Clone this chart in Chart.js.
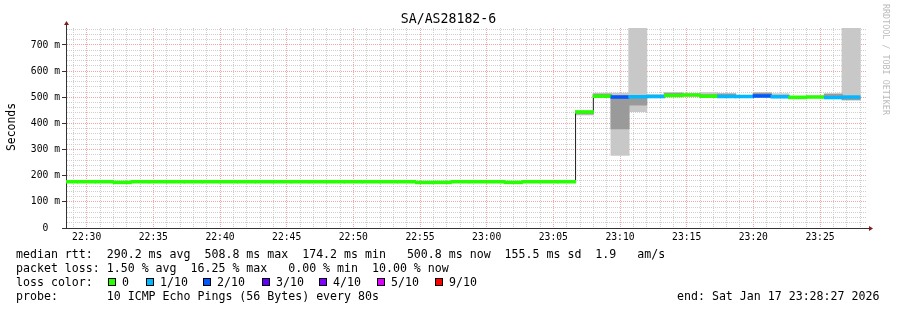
<!DOCTYPE html>
<html>
<head>
<meta charset="utf-8">
<script src="https://cdn.jsdelivr.net/npm/chart.js@4"></script>
<style>
  body { margin: 0; background: #fff; }
  #wrap { position: relative; width: 897px; height: 310px; overflow: hidden; }
  #wrap canvas { display: block; }
  #wrap div { position: absolute; white-space: pre; font-family: 'DejaVu Sans Mono', monospace; color: #000; }
  .leg { font-size: 11.6px; line-height: 14px; }
  .box { width: 6px; height: 6px; border: 1px solid #000; }
</style>
</head>
<body>
<div id="wrap">
  <canvas id="chart" width="897" height="310"></canvas>
  <div style="left:0;width:897px;top:11px;text-align:center;font-size:13.2px;line-height:16px">SA/AS28182-6</div>
  <div style="left:11px;top:127px;font-size:11.4px;line-height:14px;transform:translate(-50%,-50%) rotate(-90deg)">Seconds</div>
  <div style="left:881px;top:4px;font-size:8.4px;color:#bbb;writing-mode:vertical-rl">RRDTOOL / TOBI OETIKER</div>
  <div class="leg" style="left:16px;top:247px">median rtt:  290.2 ms avg  508.8 ms max  174.2 ms min   500.8 ms now  155.5 ms sd  1.9   am/s</div>
  <div class="leg" style="left:16px;top:261px">packet loss: 1.50 % avg  16.25 % max   0.00 % min  10.00 % now</div>
  <div class="leg" style="left:16px;top:275px">loss color:</div>
  <div class="leg" style="left:16px;top:289px">probe:       10 ICMP Echo Pings (56 Bytes) every 80s</div>
  <div class="leg" style="left:677px;top:289px">end: Sat Jan 17 23:28:27 2026</div>
</div>
<script>
// time in minutes after 22:00, one bin every 80 s
const viewStart = 28.45;   // 22:28:27
const viewEnd = 88.45;     // 23:28:27
const firstBin = 28;       // 22:28:00
const binLen = 4 / 3;

// median rtt per bin (ms)
const median = [177, 177, 177, 174.5, 177, 177, 177, 177, 177, 177, 177, 177, 177, 177, 177,
  177, 177, 177, 177, 177, 174.2, 174.5, 177, 177, 177, 174.5, 177, 177, 177,
  444, 504, 501, 502, 503, 507, 508.8, 504, 503, 503, 505, 502, 500, 501, 499, 500.8];
// lost pings out of 10 per bin
const loss = [0, 0, 0, 0, 0, 0, 0, 0, 0, 0, 0, 0, 0, 0, 0, 0, 0, 0, 0, 0, 0, 0, 0, 0, 0, 0, 0, 0, 0,
  0, 0, 2, 1, 1, 0, 0, 0, 1, 1, 2, 1, 0, 0, 1, 1];
// smoke: full ping range and inner ping range per bin (ms)
const smokeMin = [175, 175, 175, 173, 175, 175, 175, 175, 175, 175, 175, 175, 175, 175, 175,
  175, 175, 175, 175, 175, 173, 173, 175, 175, 175, 173, 175, 175, 175,
  432, 500, 278, 445, 498, 502, 504, 500, 500, 500, 500, 498, 493, 499, 497, 490];
const smokeMax = [179, 179, 179, 176, 179, 179, 179, 179, 179, 179, 179, 179, 179, 179, 179,
  179, 179, 179, 179, 179, 176, 176, 179, 179, 179, 176, 179, 179, 179,
  447, 516, 516, 800, 510, 518, 514, 518, 514, 507, 518, 514, 502, 505, 514, 800];
const coreMin = [177, 177, 177, 174.5, 177, 177, 177, 177, 177, 177, 177, 177, 177, 177, 177,
  177, 177, 177, 177, 177, 174.2, 174.5, 177, 177, 177, 174.5, 177, 177, 177,
  436, 502, 379, 470, 500, 504, 506, 502, 502, 501, 502, 500, 495, 500, 499, 490];
const coreMax = [177, 177, 177, 174.5, 177, 177, 177, 177, 177, 177, 177, 177, 177, 177, 177,
  177, 177, 177, 177, 177, 174.2, 174.5, 177, 177, 177, 174.5, 177, 177, 177,
  446, 512, 506, 506, 508, 516, 512, 510, 513, 505, 516, 508, 501, 503, 512, 500];

const lossLevels = [0, 1, 2, 3, 4, 5, 9];
const lossLabels = ['0', '1/10', '2/10', '3/10', '4/10', '5/10', '9/10'];
const lossColors = ['#26ff00', '#00b8ff', '#0059ff', '#5e00ff', '#7e00ff', '#dd00ff', '#ff0000'];

const axisColor = '#333333';
const majorGrid = '#f2a6a6';
const minorGrid = '#cfcfcf';
const monoFont = 'DejaVu Sans Mono';

// loss colour legend
const boxX = [108, 146, 203, 262, 319, 377, 435];
const wrap = document.getElementById('wrap');
lossLabels.forEach((lab, i) => {
  const b = document.createElement('div');
  b.className = 'box';
  b.style.left = boxX[i] + 'px';
  b.style.top = '278px';
  b.style.background = lossColors[i];
  wrap.appendChild(b);
  const t = document.createElement('div');
  t.className = 'leg';
  t.style.left = (boxX[i] + 14) + 'px';
  t.style.top = '275px';
  t.textContent = lab;
  wrap.appendChild(t);
});

function lossColor(n) {
  let c = lossColors[0];
  lossLevels.forEach((lv, i) => { if (n >= lv) c = lossColors[i]; });
  return c;
}
const binStart = i => firstBin + i * binLen;
const binMid = i => binStart(i) + binLen / 2;
const binPx = 800 * binLen / (viewEnd - viewStart) + 0.5;
const halfBand = 5.5;

function hhmm(v) {
  const h = 22 + Math.floor(v / 60);
  const m = v % 60;
  return h + ':' + String(m).padStart(2, '0');
}

// axis extensions and arrows like rrdtool
const arrows = {
  id: 'arrows',
  afterDraw(chart) {
    const {ctx, chartArea: a} = chart;
    ctx.save();
    ctx.strokeStyle = axisColor;
    ctx.lineWidth = 1;
    ctx.beginPath();
    ctx.moveTo(a.left + 0.5, a.top);
    ctx.lineTo(a.left + 0.5, a.top - 4);
    ctx.moveTo(a.left - 4, a.bottom + 0.5);
    ctx.lineTo(a.right + 3, a.bottom + 0.5);
    ctx.stroke();
    ctx.fillStyle = '#7f1f1f';
    ctx.beginPath();
    ctx.moveTo(a.left - 2, a.top - 3);
    ctx.lineTo(a.left + 3, a.top - 3);
    ctx.lineTo(a.left + 0.5, a.top - 7);
    ctx.closePath();
    ctx.fill();
    ctx.beginPath();
    ctx.moveTo(a.right + 3, a.bottom - 2);
    ctx.lineTo(a.right + 3, a.bottom + 3);
    ctx.lineTo(a.right + 7, a.bottom + 0.5);
    ctx.closePath();
    ctx.fill();
    ctx.restore();
  }
};

const lineData = median.map((m, i) => ({x: binStart(i), y: m}));
lineData.push({x: binStart(median.length), y: median[median.length - 1]});

new Chart(document.getElementById('chart'), {
  data: {
    datasets: [
      {
        type: 'bar',
        order: 0,
        data: median.map((m, i) => ({x: binMid(i), y: [m - halfBand, m + halfBand]})),
        backgroundColor: loss.map(lossColor),
        grouped: false,
        barThickness: binPx,
        borderWidth: 0,
        clip: 0
      },
      {
        type: 'line',
        order: 1,
        data: lineData,
        stepped: true,
        borderColor: '#202020',
        borderWidth: 1,
        pointRadius: 0,
        fill: false,
        clip: 0
      },
      {
        type: 'bar',
        order: 2,
        data: coreMin.map((v, i) => ({x: binMid(i), y: [v, coreMax[i]]})),
        backgroundColor: '#9a9a9a',
        grouped: false,
        barThickness: binPx,
        borderWidth: 0,
        clip: 0
      },
      {
        type: 'bar',
        order: 3,
        data: smokeMin.map((v, i) => ({x: binMid(i), y: [v, smokeMax[i]]})),
        backgroundColor: '#c8c8c8',
        grouped: false,
        barThickness: binPx,
        borderWidth: 0,
        clip: 0
      }
    ]
  },
  options: {
    responsive: false,
    animation: false,
    devicePixelRatio: 1,
    layout: { padding: { left: 0, right: 31, top: 28, bottom: 62 } },
    plugins: { legend: { display: false }, tooltip: { enabled: false }, title: { display: false } },
    scales: {
      x: {
        type: 'linear',
        min: viewStart,
        max: viewEnd,
        offset: false,
        z: 1,
        afterBuildTicks: s => {
          s.ticks = [];
          for (let m = 29; m <= 88; m++) s.ticks.push({value: m});
        },
        afterFit: s => { s.height = 20; },
        ticks: {
          autoSkip: false,
          maxRotation: 0,
          padding: 4,
          color: '#000',
          font: { family: monoFont, size: 9.7 },
          callback: v => (v % 5 === 0 ? hhmm(v) : '')
        },
        grid: {
          offset: false,
          drawTicks: false,
          color: c => (c.tick && c.tick.value % 5 === 0 ? majorGrid : minorGrid)
        },
        border: { color: axisColor, width: 1, dash: [1, 1] }
      },
      y: {
        min: 0,
        max: 765,
        z: 1,
        afterBuildTicks: s => {
          s.ticks = [];
          for (let v = 0; v <= 760; v += 20) s.ticks.push({value: v});
        },
        afterFit: s => { s.width = 66; },
        ticks: {
          autoSkip: false,
          padding: 2,
          color: '#000',
          font: { family: monoFont, size: 9.7 },
          callback: v => (v === 0 ? '0  ' : v % 100 === 0 ? v + ' m' : '')
        },
        grid: {
          drawTicks: true,
          tickLength: 4,
          tickColor: c => (c.tick && c.tick.value % 100 === 0 ? axisColor : 'rgba(0,0,0,0)'),
          color: c => (c.tick && c.tick.value % 100 === 0 ? majorGrid : minorGrid)
        },
        border: { color: axisColor, width: 1, dash: [1, 1] }
      }
    }
  },
  plugins: [arrows]
});
</script>
</body>
</html>
